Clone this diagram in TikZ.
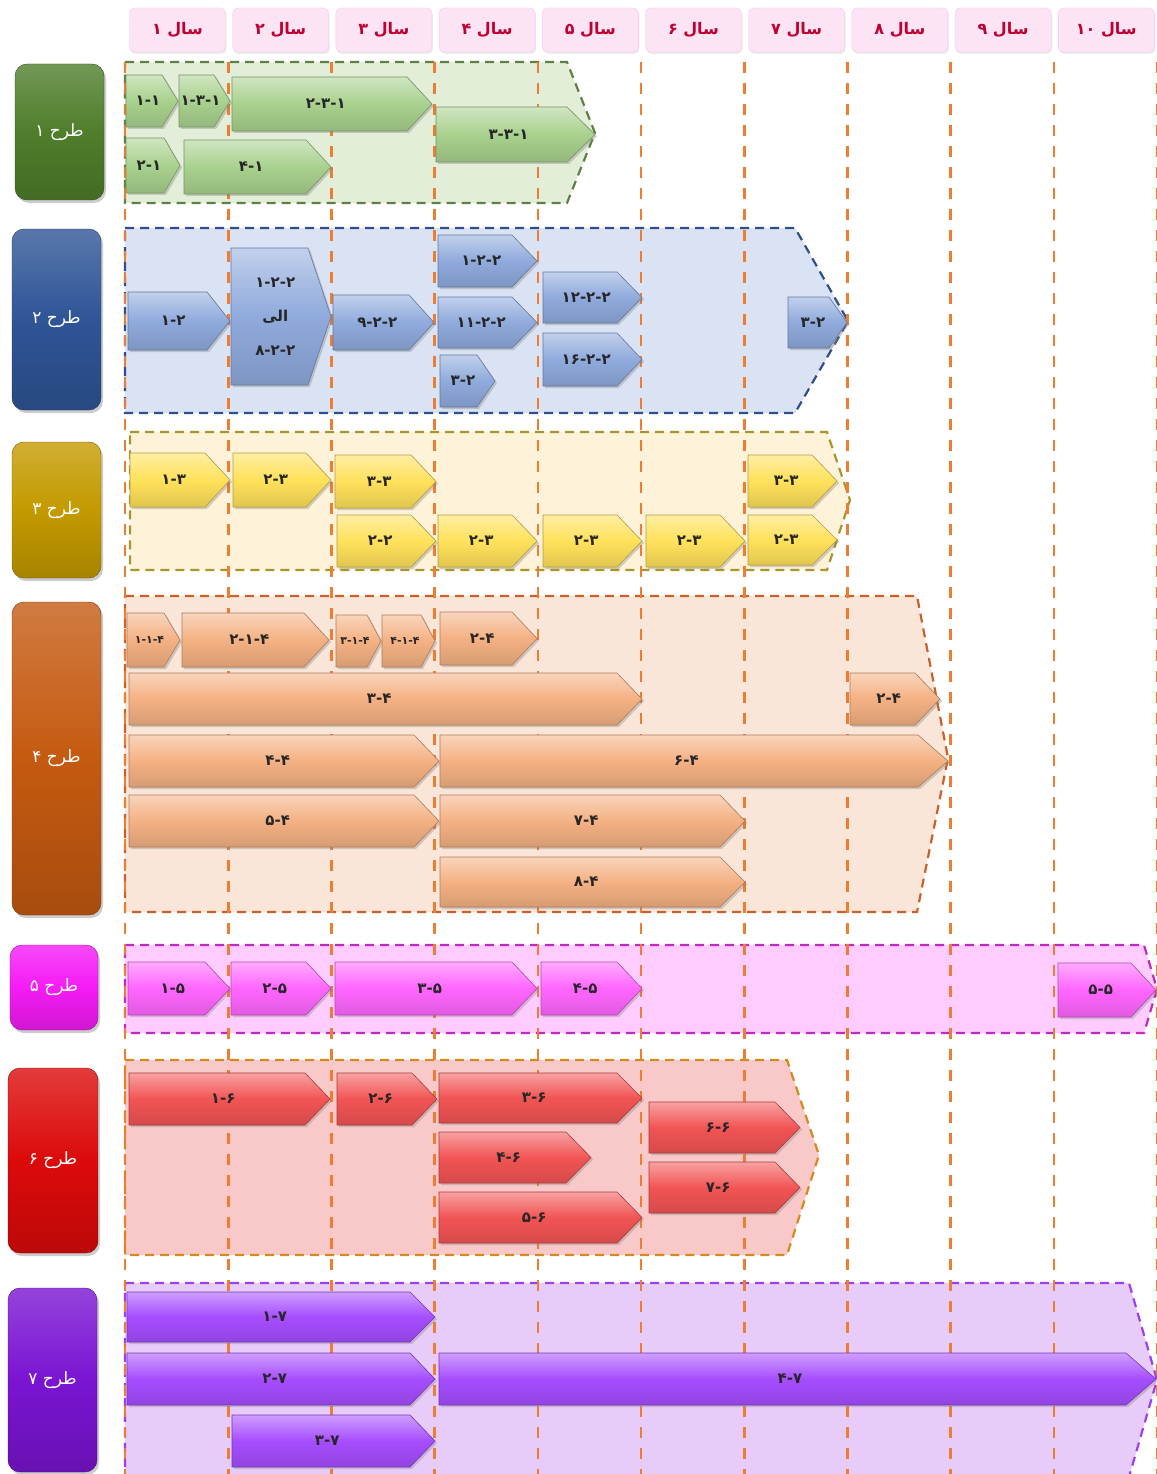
\documentclass[tikz,border=0pt]{standalone}
\usepackage{fontspec}
\usepackage{xcolor}
\usetikzlibrary{shadows}
\newfontfamily\fa[Script=Arabic]{DejaVu Sans}
\TeXXeTstate=1

\definecolor{grnA}{HTML}{A9D18E}\definecolor{grnB}{HTML}{4F7E2B}
\definecolor{grnR}{HTML}{E3EED9}\definecolor{grnL}{HTML}{5E7F45}
\definecolor{bluA}{HTML}{8FAADC}\definecolor{bluB}{HTML}{2F5597}
\definecolor{bluR}{HTML}{DAE3F3}\definecolor{bluL}{HTML}{2F4E8A}
\definecolor{yelA}{HTML}{FFE15A}\definecolor{yelB}{HTML}{C49A00}
\definecolor{yelR}{HTML}{FEF2D8}\definecolor{yelL}{HTML}{A8962A}
\definecolor{orgA}{HTML}{F4B183}\definecolor{orgB}{HTML}{C55A11}
\definecolor{orgR}{HTML}{FAE6D8}\definecolor{orgL}{HTML}{C8622A}
\definecolor{magA}{HTML}{FF66FF}\definecolor{magB}{HTML}{F51BF5}
\definecolor{magR}{HTML}{FFCCFF}\definecolor{magL}{HTML}{C02AC0}
\definecolor{redA}{HTML}{F25454}\definecolor{redB}{HTML}{DC0A0A}
\definecolor{redR}{HTML}{F9C9C9}\definecolor{redL}{HTML}{D48A1E}
\definecolor{purA}{HTML}{A64DFF}\definecolor{purB}{HTML}{7A14D2}
\definecolor{purR}{HTML}{E7CCFA}\definecolor{purL}{HTML}{9A40F0}
\definecolor{yrline}{HTML}{EE7D31}
\definecolor{yrcell}{HTML}{FCE4F5}
\definecolor{yrtext}{HTML}{C00030}

% [tip depth]{name}{colour}{x1}{x2}{y1}{y2}{label}
\newcommand{\plantask}[8][25]{%
  \path[task=#3] (#4,#6) -- ({#5-#1},#6) -- (#5,{(#6+#7)/2}) -- ({#5-#1},#7) -- (#4,#7) -- cycle;
  \node[tasklabel] (#2) at ({(#4+#5)/2-#1/4},{(#6+#7)/2}) {#8};}

\begin{document}
\begin{tikzpicture}[x=1pt,y=-1pt,
    task/.style={top color=#1!55!white, bottom color=#1!88!black, middle color=#1,
      draw=#1!70!black, line width=0.6pt,
      drop shadow={opacity=0.35, shadow xshift=2pt, shadow yshift=-2pt}},
    tasklabel/.style={font=\fa\bfseries\fontsize{15}{17}\selectfont, text=black!85, align=center, inner sep=0pt},
    planbox/.style={rounded corners=12pt, top color=#1!80!white, bottom color=#1!85!black, middle color=#1,
      draw=#1!60!black, text=white, font=\fa\fontsize{17}{20}\selectfont, inner sep=0pt,
      drop shadow={opacity=0.4, shadow xshift=2pt, shadow yshift=-3pt}},
    yearcell/.style={rounded corners=5pt, fill=yrcell, draw=yrcell!85!magenta, text=yrtext,
      font=\fa\bfseries\fontsize{16}{18}\selectfont, minimum width=96, minimum height=44,
      drop shadow={opacity=0.15, shadow xshift=1pt, shadow yshift=-2pt}},
    region/.style 2 args={fill=#1, draw=#2, dash pattern=on 9pt off 6pt, line width=2.2pt},
    yearline/.style={draw=yrline, dash pattern=on 11pt off 10pt, line width=2.6pt}]

  \fill[white] (0,0) rectangle (1156,1474);
  \useasboundingbox (0,0) rectangle (1156,1474);

  \foreach \i/\yn in {1/۱,2/۲,3/۳,4/۴,5/۵,6/۶,7/۷,8/۸,9/۹,10/۱۰}
    \node[yearcell] (yr\i) at ({125+103.2*(\i-1)+52.5},30) {\beginR سال \yn\endR};

  \path[region={grnR}{grnL}] (125,62) -- (567,62) -- (595,133) -- (567,203) -- (125,203) -- cycle;
  \path[region={bluR}{bluL}] (125,228) -- (795,228) -- (848,321) -- (795,413) -- (125,413) -- cycle;
  \path[region={yelR}{yelL}] (130,432) -- (827,432) -- (850,500) -- (827,570) -- (130,570) -- cycle;
  \path[region={orgR}{orgL}] (125,596) -- (917,596) -- (948,758) -- (917,912) -- (125,912) -- cycle;
  \path[region={magR}{magL}] (125,945) -- (1144,945) -- (1157,989) -- (1144,1033) -- (125,1033) -- cycle;
  \path[region={redR}{redL}] (125,1060) -- (787,1060) -- (819,1155) -- (787,1255) -- (125,1255) -- cycle;
  \path[region={purR}{purL}] (125,1283) -- (1129,1283) -- (1157,1380) -- (1129,1477) -- (125,1477) -- cycle;

  \foreach \k in {0,...,10}
    \draw[yearline] ({125+103.2*\k},62) -- ({125+103.2*\k},1474);

  \plantask[16]{t11}{grnA}{126}{178}{75}{127}{۱-۱}
  \plantask[16]{t131}{grnA}{179}{230}{75}{127}{۱-۳-۱}
  \plantask{t231}{grnA}{232}{432}{77}{131}{۲-۳-۱}
  \plantask[16]{t21}{grnA}{126}{180}{138}{193}{۲-۱}
  \plantask{t41}{grnA}{184}{331}{140}{194}{۴-۱}
  \plantask[28]{t331}{grnA}{436}{595}{107}{162}{۳-۳-۱}

  \plantask[23]{t12}{bluA}{128}{230}{292}{350}{۱-۲}
  \plantask[23]{t122}{bluA}{231}{331}{248}{385}{۱-۲-۲\\[17pt]\beginR الی\endR\\[17pt]۸-۲-۲}
  \plantask{t922}{bluA}{333}{434}{295}{350}{۹-۲-۲}
  \plantask{t122b}{bluA}{438}{537}{235}{287}{۱-۲-۲}
  \plantask{t1122}{bluA}{438}{537}{297}{348}{۱۱-۲-۲}
  \plantask[18]{t32}{bluA}{440}{495}{355}{407}{۳-۲}
  \plantask{t1222}{bluA}{543}{642}{272}{323}{۱۲-۲-۲}
  \plantask{t1622}{bluA}{543}{642}{333}{386}{۱۶-۲-۲}
  \plantask[18]{t32b}{bluA}{788}{847}{297}{348}{۳-۲}

  \plantask{t13}{yelA}{130}{230}{453}{507}{۱-۳}
  \plantask{t23}{yelA}{233}{331}{453}{507}{۲-۳}
  \plantask{t33}{yelA}{335}{436}{455}{508}{۳-۳}
  \plantask{t22}{yelA}{337}{436}{515}{567}{۲-۲}
  \plantask{t23b}{yelA}{438}{537}{515}{567}{۲-۳}
  \plantask{t23c}{yelA}{543}{642}{515}{567}{۲-۳}
  \plantask{t23d}{yelA}{646}{745}{515}{567}{۲-۳}
  \plantask{t33b}{yelA}{748}{837}{455}{507}{۳-۳}
  \plantask{t23e}{yelA}{748}{837}{515}{565}{۲-۳}

  \plantask[16]{t114}{orgA}{127}{180}{613}{667}{{\fontsize{11}{13}\selectfont ۱-۱-۴}}
  \plantask{t214}{orgA}{182}{329}{613}{667}{۲-۱-۴}
  \plantask[14]{t314}{orgA}{336}{381}{615}{667}{{\fontsize{11}{13}\selectfont ۳-۱-۴}}
  \plantask[14]{t414}{orgA}{382}{435}{615}{667}{{\fontsize{11}{13}\selectfont ۴-۱-۴}}
  \plantask{t24}{orgA}{440}{537}{612}{665}{۲-۴}
  \plantask{t34}{orgA}{129}{642}{673}{725}{۳-۴}
  \plantask{t24b}{orgA}{850}{940}{673}{725}{۲-۴}
  \plantask{t44}{orgA}{129}{439}{735}{787}{۴-۴}
  \plantask[30]{t64}{orgA}{440}{948}{735}{787}{۶-۴}
  \plantask{t54}{orgA}{129}{439}{795}{847}{۵-۴}
  \plantask{t74}{orgA}{440}{745}{795}{847}{۷-۴}
  \plantask{t84}{orgA}{440}{745}{857}{907}{۸-۴}

  \plantask{t15}{magA}{128}{230}{962}{1015}{۱-۵}
  \plantask{t25}{magA}{231}{331}{962}{1015}{۲-۵}
  \plantask{t35}{magA}{335}{537}{962}{1015}{۳-۵}
  \plantask{t45}{magA}{541}{642}{962}{1015}{۴-۵}
  \plantask{t55}{magA}{1058}{1156}{963}{1017}{۵-۵}

  \plantask{t16}{redA}{129}{330}{1073}{1125}{۱-۶}
  \plantask{t26}{redA}{337}{437}{1073}{1125}{۲-۶}
  \plantask{t36}{redA}{439}{642}{1073}{1123}{۳-۶}
  \plantask{t46}{redA}{439}{591}{1132}{1183}{۴-۶}
  \plantask{t56}{redA}{439}{642}{1192}{1243}{۵-۶}
  \plantask{t66}{redA}{649}{800}{1102}{1153}{۶-۶}
  \plantask{t76}{redA}{649}{800}{1162}{1213}{۷-۶}

  \plantask{t17}{purA}{127}{435}{1292}{1342}{۱-۷}
  \plantask{t27}{purA}{127}{435}{1353}{1405}{۲-۷}
  \plantask[30]{t47}{purA}{439}{1156}{1353}{1405}{۴-۷}
  \plantask{t37}{purA}{232}{435}{1415}{1467}{۳-۷}

  \node[planbox=grnB, minimum width=89, minimum height=136] (plan1) at (59.5,132) {\beginR طرح ۱\endR};
  \node[planbox=bluB, minimum width=89, minimum height=181] (plan2) at (56.5,319.5) {\beginR طرح ۲\endR};
  \node[planbox=yelB, minimum width=89, minimum height=136] (plan3) at (56.5,510) {\beginR طرح ۳\endR};
  \node[planbox=orgB, minimum width=89, minimum height=313] (plan4) at (56.5,758.5) {\beginR طرح ۴\endR};
  \node[planbox=magB, minimum width=88, minimum height=85] (plan5) at (54,987.5) {\beginR طرح ۵\endR};
  \node[planbox=redB, minimum width=90, minimum height=185] (plan6) at (53,1160.5) {\beginR طرح ۶\endR};
  \node[planbox=purB, minimum width=89, minimum height=184] (plan7) at (52.5,1380) {\beginR طرح ۷\endR};
\end{tikzpicture}
\end{document}
